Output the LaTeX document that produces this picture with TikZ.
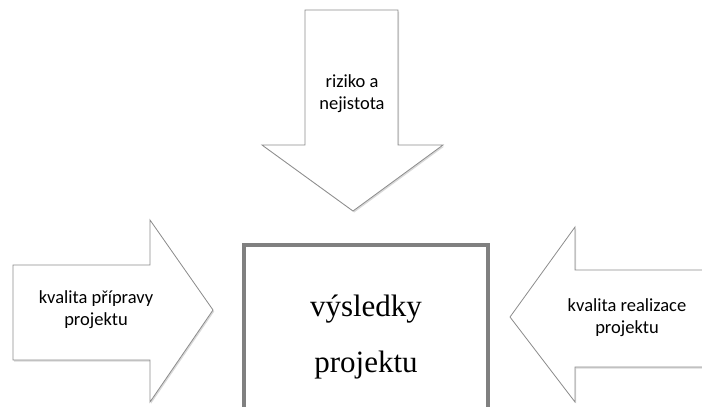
\documentclass[tikz,border=0pt]{standalone}
\usepackage{fontspec}
\setmainfont{Liberation Serif}
\newfontfamily\calibri{Carlito}
\usetikzlibrary{shadows}
\tikzset{
  bigarrow/.style={draw=black!45, line width=0.8pt, fill=white, line join=miter,
    drop shadow={opacity=0.3, shadow xshift=1.2pt, shadow yshift=-1.5pt}},
  arrowlabel/.style={font=\calibri\fontsize{18.5}{22}\selectfont, align=center, inner sep=0pt},
}
\begin{document}
\begin{tikzpicture}[x=1pt,y=-1pt]
\useasboundingbox (0,0) rectangle (702,407);
\begin{scope}
\clip (0,0) rectangle (702,407);
% top arrow
\path[bigarrow] (305,10) -- (398,10) -- (398,145) -- (443,145) -- (353,211) -- (262,145) -- (305,145) -- cycle;
% left arrow
\path[bigarrow] (13,265) -- (150,265) -- (150,220) -- (213,310) -- (150,402) -- (150,360) -- (13,360) -- cycle;
% right arrow
\path[bigarrow] (710,270) -- (575,270) -- (575,227) -- (510,317) -- (575,402) -- (575,367) -- (710,367) -- cycle;
% result box
\draw[draw=black!50, line width=4pt, fill=white] (244,245) rectangle (488,414);
\end{scope}
\node[arrowlabel] (risk) at (352,94) {riziko a\\nejistota};
\node[arrowlabel] (prep) at (96,310) {kvalita přípravy\\projektu};
\node[arrowlabel] (real) at (627,318) {kvalita realizace\\projektu};
\node[font=\fontsize{31}{56}\selectfont, align=center, inner sep=0pt] (res) at (366,337) {výsledky\\projektu};
\end{tikzpicture}
\end{document}
